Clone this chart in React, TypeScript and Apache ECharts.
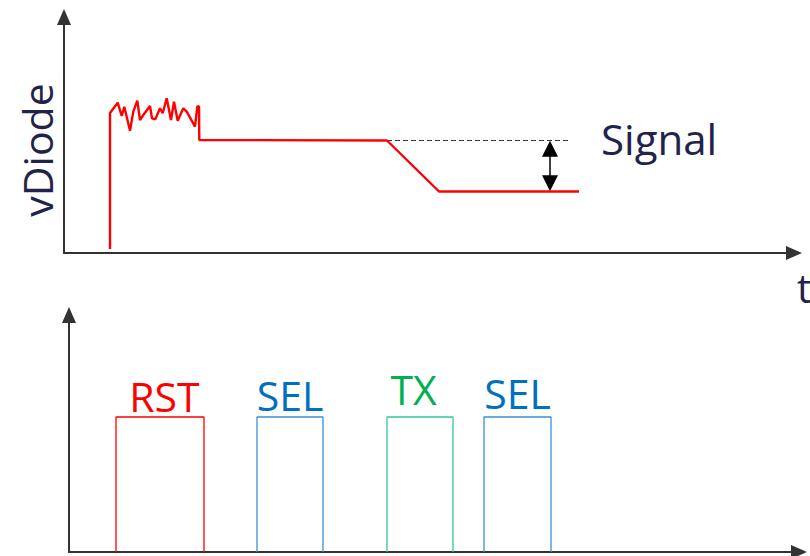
import React, { useEffect, useRef } from "react";
import * as echarts from "echarts";

// Top plot: vDiode trace (x = time units, y = voltage units)
const vDiodeTrace: [number, number][] = [
  [46, 4], [46, 140], [53.7, 150.3], [57.7, 137], [60.3, 146.3], [62.7, 136.3],
  [66, 122.3], [69.3, 141.3], [73.3, 152.3], [76, 133], [79.3, 138], [86, 147],
  [88, 134.7], [91.3, 133.7], [96, 144.7], [98.7, 139.7], [102.7, 154.7], [107, 133],
  [110, 151.3], [113.7, 132.3], [119.3, 144.7], [122.7, 141.3], [131, 126.3],
  [133.3, 146.3], [135, 147], [135.3, 113], [323, 112.5], [375, 61.5], [515, 61.5],
];
const signalReference: [number, number][] = [[323, 112.5], [506, 112.5]];
const signalArrowShaft: [number, number][] = [[486, 104], [486, 70]];
const signalArrowHeads: [number, number][] = [[486, 104.3], [486, 69.7]];

// Bottom plot: control pulses
const pulseNames = ["RST", "SEL", "TX", "SEL"];
const pulseStart = [47, 188, 318, 415];
const pulseEnd = [135, 254, 384, 482];
const pulseHigh = 135;
const pulseLabelX = [95.5, 221, 344.5, 448.5];
const pulseLabelY = [156, 157, 163.5, 159];
const pulseColors = ["#ff0000", "#3a8fd2", "#35c39e", "#3a8fd2"];
const labelColors = ["#ff0000", "#0070c0", "#00b050", "#0070c0"];

const FONT = "'Open Sans', Lato, sans-serif";
const TEXT_DARK = "#22224a";

export default function App() {
  const ref = useRef<HTMLDivElement>(null);
  useEffect(() => {
    if (!ref.current) return;
    const chart = echarts.init(ref.current, undefined, { renderer: "svg" });
    const axisLine = {
      show: true,
      onZero: false,
      symbol: ["none", "triangle"],
      symbolSize: [14, 16],
      lineStyle: { color: "#333", width: 2 },
    };
    const hidden = {
      axisTick: { show: false },
      axisLabel: { show: false },
      splitLine: { show: false },
    };
    const pulseSeries = pulseNames.map((n, i) => ({
      type: "line",
      name: n,
      xAxisIndex: 1,
      yAxisIndex: 1,
      showSymbol: false,
      symbol: "none",
      lineStyle: { color: pulseColors[i], width: 1.3 },
      data: [
        [pulseStart[i], 0],
        [pulseStart[i], pulseHigh],
        [pulseEnd[i], pulseHigh],
        [pulseEnd[i], 0],
      ],
      z: 3,
    }));
    chart.setOption({
      animation: false,
      grid: [
        { left: 64, top: 17, width: 730, height: 236 },
        { left: 69, top: 315, width: 730, height: 237 },
      ],
      xAxis: [
        { type: "value", gridIndex: 0, min: 0, max: 730, axisLine, ...hidden },
        { type: "value", gridIndex: 1, min: 0, max: 730, axisLine, ...hidden },
      ],
      yAxis: [
        { type: "value", gridIndex: 0, min: 0, max: 236, axisLine, ...hidden },
        { type: "value", gridIndex: 1, min: 0, max: 237, axisLine, ...hidden },
      ],
      series: [
        {
          type: "line",
          name: "vDiode",
          xAxisIndex: 0,
          yAxisIndex: 0,
          showSymbol: false,
          symbol: "none",
          lineStyle: { color: "#ff0000", width: 2.4 },
          data: vDiodeTrace,
          z: 3,
        },
        {
          type: "line",
          name: "reference",
          xAxisIndex: 0,
          yAxisIndex: 0,
          showSymbol: false,
          symbol: "none",
          lineStyle: { color: "#333", width: 1.2, type: [5, 3] },
          data: signalReference,
          z: 2,
        },
        {
          type: "line",
          name: "arrowShaft",
          xAxisIndex: 0,
          yAxisIndex: 0,
          showSymbol: false,
          symbol: "none",
          lineStyle: { color: "#000", width: 1.5 },
          data: signalArrowShaft,
        },
        {
          type: "scatter",
          name: "arrowHeads",
          xAxisIndex: 0,
          yAxisIndex: 0,
          symbol: "triangle",
          symbolSize: [16, 16],
          itemStyle: { color: "#000", opacity: 1 },
          data: [
            { value: signalArrowHeads[0], symbolRotate: 0 },
            { value: signalArrowHeads[1], symbolRotate: 180 },
          ],
        },
        ...pulseSeries,
        {
          type: "scatter",
          name: "pulseLabels",
          xAxisIndex: 1,
          yAxisIndex: 1,
          symbolSize: 1,
          itemStyle: { color: "rgba(0,0,0,0)", opacity: 1 },
          label: {
            show: true,
            position: "inside",
            formatter: "{b}",
            fontSize: 41,
            fontFamily: FONT,
            textBorderWidth: 0,
          },
          data: pulseNames.map((n, i) => ({
            name: n,
            value: [pulseLabelX[i], pulseLabelY[i]],
            label: { color: labelColors[i] },
          })),
          z: 5,
        },
      ],
      graphic: [
        {
          type: "text",
          x: 37,
          y: 150,
          rotation: Math.PI / 2,
          style: {
            text: "vDiode",
            font: `41px ${FONT}`,
            fill: TEXT_DARK,
            align: "center",
            verticalAlign: "middle",
          },
        },
        {
          type: "text",
          x: 601,
          y: 138,
          style: {
            text: "Signal",
            font: `42px ${FONT}`,
            fill: TEXT_DARK,
            align: "left",
            verticalAlign: "middle",
          },
        },
        {
          type: "text",
          x: 797,
          y: 287,
          style: {
            text: "t",
            font: `40px ${FONT}`,
            fill: TEXT_DARK,
            align: "left",
            verticalAlign: "middle",
          },
        },
      ],
    });
    return () => chart.dispose();
  }, []);
  return (
    <div
      ref={ref}
      style={{ position: "fixed", left: 0, top: 0, width: 810, height: 556, background: "#fff" }}
    />
  );
}
